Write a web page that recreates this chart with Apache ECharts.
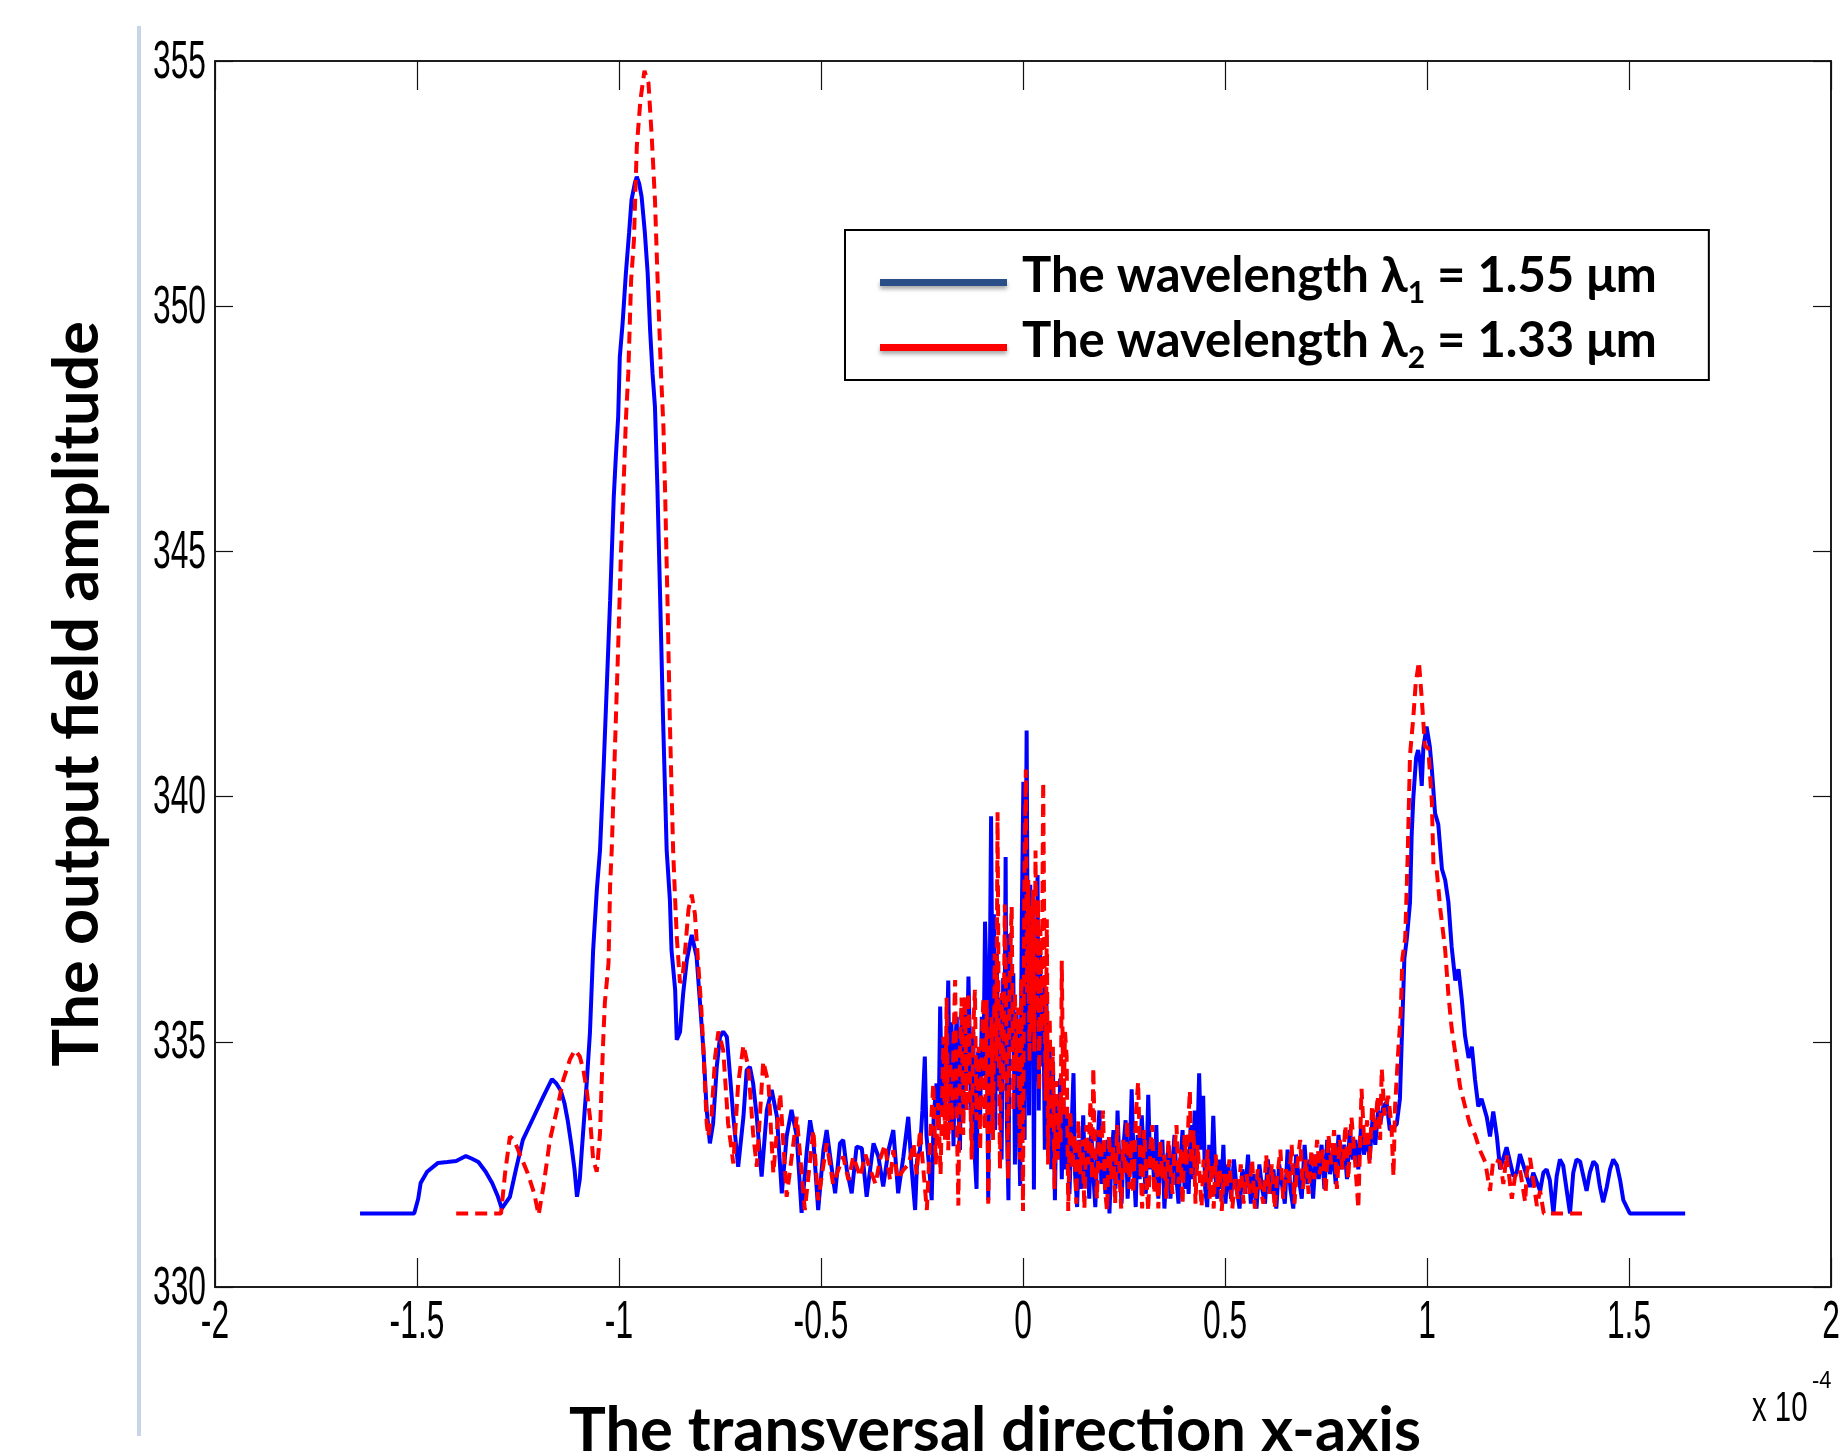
<!DOCTYPE html>
<html>
<head>
<meta charset="utf-8">
<script src="https://cdn.jsdelivr.net/npm/echarts@6/dist/echarts.min.js"></script>
<style>
html,body{margin:0;padding:0;background:#fff;}
#chart{width:1846px;height:1452px;}
</style>
</head>
<body>
<div id="chart"></div>
<script>
// ---- tick values ----
const xTicks = [-2, -1.5, -1, -0.5, 0, 0.5, 1, 1.5, 2];
const yTicks = [330, 335, 340, 345, 350, 355];

// ---- titles / legend ----
const xTitle = 'The transversal direction x-axis';
const yTitle = 'The output field amplitude';
const seriesNames = ['The wavelength λ1 = 1.55 μm', 'The wavelength λ2 = 1.33 μm'];
const legendRich = [
  '{t0|The wavelength λ}{s|1}{t| = 1.55 μm}',
  '{t0|The wavelength λ}{s|2}{t| = 1.33 μm}'
];
const scaleNote = ['x 10', '-4'];

// ---- series 1: λ1 = 1.55 μm (x in units of 1e-4) ----
const bluePts = [
[-1.641,331.5],[-1.507,331.5],[-1.497,331.8],[-1.491,332.12],[-1.475,332.35],[-1.448,332.53],[-1.425,332.55],[-1.403,332.57],
[-1.379,332.67],[-1.365,332.62],[-1.348,332.55],[-1.330,332.35],[-1.314,332.12],[-1.300,331.85],[-1.290,331.6],[-1.280,331.72],
[-1.270,331.84],[-1.255,332.4],[-1.238,333.0],[-1.215,333.4],[-1.188,333.87],[-1.166,334.24],[-1.155,334.15],[-1.144,334.0],
[-1.135,333.75],[-1.127,333.4],[-1.118,332.9],[-1.110,332.39],[-1.104,331.84],[-1.097,332.2],[-1.092,332.79],[-1.080,334.15],
[-1.072,335.17],[-1.064,336.87],[-1.055,338.09],[-1.047,338.91],[-1.038,340.6],[-1.030,342.3],[-1.022,344.0],[-1.013,346.1],
[-1.008,346.9],[-1.002,347.75],[-0.998,348.97],[-0.991,349.66],[-0.983,350.67],[-0.975,351.5],[-0.969,352.17],[-0.961,352.5],
[-0.956,352.64],[-0.950,352.5],[-0.944,352.23],[-0.936,351.5],[-0.929,350.67],[-0.923,349.51],[-0.917,348.63],[-0.911,347.95],
[-0.905,346.32],[-0.898,344.0],[-0.891,341.6],[-0.882,338.91],[-0.874,337.89],[-0.870,336.87],[-0.861,336.06],[-0.857,335.04],
[-0.849,335.2],[-0.841,336.0],[-0.832,336.67],[-0.820,337.18],[-0.808,336.74],[-0.800,335.85],[-0.791,334.83],[-0.783,333.61],
[-0.775,332.93],[-0.767,333.34],[-0.758,334.49],[-0.750,335.1],[-0.742,335.21],[-0.733,335.1],[-0.725,334.29],[-0.717,333.47],
[-0.705,332.45],[-0.692,333.47],[-0.684,334.42],[-0.676,334.49],[-0.668,334.15],[-0.659,333.47],[-0.647,332.25],[-0.634,333.61],
[-0.622,334.02],[-0.609,333.47],[-0.597,331.91],[-0.585,333.07],[-0.573,333.61],[-0.560,333.07],[-0.548,331.51],[-0.535,332.79],
[-0.527,333.4],[-0.519,333.0],[-0.507,331.57],[-0.494,332.79],[-0.486,333.2],[-0.474,332.45],[-0.465,331.91],[-0.453,332.93],
[-0.445,333.0],[-0.436,332.39],[-0.424,331.91],[-0.412,332.86],[-0.399,332.83],[-0.387,331.84],[-0.370,332.93],[-0.358,332.66],
[-0.346,332.05],[-0.333,332.79],[-0.321,333.2],[-0.309,331.91],[-0.296,332.66],[-0.284,333.47],[-0.276,332.45],[-0.267,331.57],
[-0.262,332.6],[-0.255,332.79],[-0.249,333.6],[-0.243,334.70],[-0.239,333.1],[-0.235,333.13],[-0.230,332.2],[-0.226,331.77],
[-0.221,333.5],[-0.214,334.15],[-0.209,333.2],[-0.205,335.72],[-0.201,334.0],[-0.197,333.47],[-0.193,335.0],[-0.189,334.83],
[-0.185,336.25],[-0.181,333.3],[-0.177,335.4],[-0.172,332.87],[-0.168,334.9],[-0.164,335.51],[-0.160,333.6],[-0.156,332.79],
[-0.152,335.6],[-0.148,333.4],[-0.144,335.85],[-0.140,334.2],[-0.135,336.33],[-0.131,336.36],[-0.127,333.13],[-0.123,335.2],
[-0.119,332.6],[-0.115,332.0],[-0.111,334.8],[-0.106,333.5],[-0.102,335.51],[-0.098,334.3],[-0.094,337.45],[-0.090,336.2],
[-0.086,331.77],[-0.082,336.5],[-0.079,339.6],[-0.075,335.0],[-0.072,337.6],[-0.069,333.2],[-0.065,336.8],[-0.061,334.0],
[-0.057,335.9],[-0.053,332.6],[-0.049,336.3],[-0.046,334.6],[-0.043,338.77],[-0.040,333.4],[-0.036,331.77],[-0.032,337.2],
[-0.028,334.8],[-0.024,336.4],[-0.020,332.5],[-0.016,335.6],[-0.012,333.9],[-0.007,332.06],[-0.003,337.5],[0.001,340.3],
[0.004,333.0],[0.007,338.6],[0.009,341.35],[0.012,336.0],[0.015,333.5],[0.018,338.2],[0.021,335.0],[0.024,337.6],
[0.027,331.99],[0.030,336.8],[0.033,334.2],[0.036,338.4],[0.039,333.6],[0.042,337.0],[0.046,334.5],[0.050,336.2],
[0.054,332.8],[0.058,335.8],[0.062,333.5],[0.066,335.0],[0.070,332.4],[0.074,334.6],[0.079,331.77],[0.083,333.9],
[0.087,332.6],[0.092,334.25],[0.096,332.2],[0.100,333.8],[0.105,332.4],[0.110,333.5],[0.115,331.9],[0.120,333.2],
[0.125,334.36],[0.129,332.3],[0.134,331.63],[0.139,333.0],[0.144,332.0],[0.149,333.5],[0.154,332.2],[0.159,332.9],
[0.164,331.8],[0.169,333.2],[0.174,332.3],[0.179,331.63],[0.184,332.8],[0.189,333.6],[0.194,332.1],[0.199,332.9],
[0.204,331.9],[0.209,333.0],[0.214,331.5],[0.219,332.6],[0.224,333.2],[0.229,332.0],[0.234,333.6],[0.239,332.4],
[0.244,331.7],[0.249,332.9],[0.254,333.4],[0.259,331.8],[0.264,332.6],[0.269,334.03],[0.274,332.5],[0.279,331.63],
[0.284,333.1],[0.289,332.2],[0.294,333.5],[0.299,332.6],[0.304,331.9],[0.310,333.92],[0.315,332.4],[0.320,333.0],
[0.325,332.0],[0.330,333.3],[0.335,331.8],[0.340,332.6],[0.345,333.0],[0.350,331.6],[0.355,332.4],[0.360,332.9],
[0.365,331.8],[0.370,332.5],[0.375,333.1],[0.380,332.2],[0.385,331.7],[0.390,332.6],[0.395,333.2],[0.400,332.0],
[0.405,332.8],[0.410,331.9],[0.415,333.3],[0.420,332.2],[0.425,333.6],[0.430,332.4],[0.436,334.36],[0.441,332.8],
[0.446,333.9],[0.451,332.0],[0.456,331.63],[0.461,332.9],[0.466,332.2],[0.471,333.49],[0.476,332.3],[0.481,331.8],
[0.486,332.6],[0.491,332.0],[0.496,332.9],[0.501,331.7],[0.508,332.5],[0.515,331.8],[0.522,332.6],[0.529,332.0],
[0.536,331.6],[0.543,332.4],[0.550,331.9],[0.557,332.7],[0.564,331.7],[0.571,332.3],[0.578,331.6],[0.585,332.5],
[0.592,332.0],[0.599,331.7],[0.606,332.6],[0.613,331.9],[0.620,332.4],[0.627,331.6],[0.634,332.5],[0.641,332.1],
[0.648,331.7],[0.655,332.8],[0.662,332.0],[0.669,331.6],[0.676,332.7],[0.683,332.2],[0.690,331.8],[0.697,332.9],
[0.704,332.1],[0.711,332.6],[0.718,331.8],[0.725,332.7],[0.732,332.2],[0.739,332.9],[0.746,332.0],[0.753,333.0],
[0.760,332.3],[0.767,332.8],[0.774,332.1],[0.781,333.1],[0.788,332.4],[0.795,332.9],[0.802,332.2],[0.809,333.2],
[0.816,332.6],[0.823,333.0],[0.830,332.4],[0.837,333.3],[0.844,332.7],[0.851,333.1],[0.858,332.6],[0.865,333.4],
[0.872,332.9],[0.879,333.6],[0.884,333.32],[0.892,333.68],[0.900,333.77],[0.908,333.2],[0.917,333.25],[0.925,333.32],
[0.933,333.84],[0.937,334.9],[0.944,336.7],[0.950,337.1],[0.958,337.85],[0.962,339.2],[0.966,339.96],[0.973,340.79],
[0.978,340.95],[0.983,340.7],[0.987,340.22],[0.991,341.0],[0.999,341.43],[1.007,341.02],[1.012,340.56],[1.020,339.66],
[1.028,339.43],[1.037,338.52],[1.045,338.3],[1.053,337.85],[1.061,336.94],[1.070,336.25],[1.078,336.48],[1.086,335.88],
[1.094,335.13],[1.103,334.67],[1.111,334.9],[1.119,334.22],[1.127,333.68],[1.135,333.84],[1.148,333.46],[1.156,333.07],
[1.164,333.58],[1.173,333.07],[1.181,332.4],[1.189,332.63],[1.197,332.85],[1.214,332.26],[1.222,332.33],[1.230,332.71],
[1.247,332.26],[1.255,332.04],[1.263,332.33],[1.280,331.96],[1.288,332.33],[1.296,332.4],[1.304,332.18],[1.313,331.5],
[1.321,332.26],[1.329,332.6],[1.337,332.48],[1.346,331.96],[1.354,331.5],[1.362,332.33],[1.370,332.6],[1.379,332.56],
[1.387,332.26],[1.395,331.96],[1.403,332.33],[1.412,332.56],[1.420,332.48],[1.428,332.04],[1.436,331.73],[1.445,332.04],
[1.453,332.4],[1.461,332.6],[1.470,332.48],[1.478,332.18],[1.486,331.77],[1.502,331.5],[1.639,331.5]
];

// ---- series 2: λ2 = 1.33 μm ----
const redPts = [
[-1.403,331.5],[-1.292,331.5],[-1.282,332.32],[-1.270,333.07],[-1.260,333.0],[-1.243,332.66],[-1.226,332.32],[-1.210,331.91],
[-1.199,331.47],[-1.187,332.05],[-1.171,333.0],[-1.154,333.6],[-1.138,334.22],[-1.121,334.65],[-1.109,334.83],[-1.097,334.7],
[-1.088,334.42],[-1.080,334.02],[-1.072,333.47],[-1.064,332.6],[-1.055,332.35],[-1.047,333.13],[-1.043,334.15],[-1.039,335.04],
[-1.035,335.8],[-1.026,336.6],[-1.022,338.2],[-1.018,338.91],[-1.010,341.0],[-1.003,342.8],[-0.995,345.0],[-0.989,346.25],
[-0.983,347.68],[-0.977,348.63],[-0.970,350.53],[-0.963,351.35],[-0.956,353.25],[-0.947,354.2],[-0.937,354.8],[-0.927,354.55],
[-0.919,353.46],[-0.911,352.17],[-0.905,350.67],[-0.896,348.63],[-0.890,347.54],[-0.886,346.25],[-0.880,344.0],[-0.874,341.5],
[-0.866,338.9],[-0.861,337.9],[-0.857,337.14],[-0.849,336.2],[-0.843,336.3],[-0.837,336.8],[-0.828,337.7],[-0.820,338.0],
[-0.812,337.6],[-0.804,336.6],[-0.796,335.65],[-0.791,334.83],[-0.783,333.34],[-0.779,333.07],[-0.771,333.5],[-0.762,334.7],
[-0.754,335.21],[-0.742,334.83],[-0.730,333.34],[-0.717,332.52],[-0.705,334.15],[-0.692,334.93],[-0.680,334.49],[-0.668,333.13],
[-0.659,332.45],[-0.643,334.6],[-0.630,334.15],[-0.618,332.32],[-0.601,333.95],[-0.585,331.84],[-0.560,333.47],[-0.540,331.57],
[-0.519,333.2],[-0.507,331.77],[-0.486,332.93],[-0.470,332.1],[-0.445,332.66],[-0.432,332.18],[-0.420,332.66],[-0.403,332.25],
[-0.390,332.7],[-0.378,332.39],[-0.365,332.1],[-0.354,332.6],[-0.342,332.9],[-0.329,332.18],[-0.321,332.79],[-0.310,332.2],
[-0.296,332.39],[-0.283,332.5],[-0.271,332.93],[-0.263,332.3],[-0.255,333.2],[-0.238,331.57],[-0.230,333.0],[-0.222,334.15],
[-0.216,332.5],[-0.210,333.75],[-0.204,332.3],[-0.197,335.1],[-0.193,333.0],[-0.189,335.9],[-0.185,332.79],[-0.180,334.6],
[-0.176,333.2],[-0.172,335.0],[-0.168,336.26],[-0.164,333.5],[-0.160,331.66],[-0.156,334.8],[-0.152,335.9],[-0.148,333.1],
[-0.144,335.92],[-0.139,333.6],[-0.135,336.0],[-0.131,334.15],[-0.127,332.6],[-0.123,335.3],[-0.119,336.06],[-0.115,333.4],
[-0.110,334.9],[-0.106,332.79],[-0.102,335.0],[-0.098,335.9],[-0.094,333.2],[-0.090,335.85],[-0.086,331.7],[-0.082,334.2],
[-0.078,335.5],[-0.074,333.0],[-0.070,336.8],[-0.066,334.6],[-0.063,339.68],[-0.060,335.2],[-0.057,332.4],[-0.053,336.0],
[-0.049,334.0],[-0.045,337.8],[-0.041,335.3],[-0.037,332.2],[-0.033,336.4],[-0.028,337.75],[-0.024,333.6],[-0.020,336.0],
[-0.016,334.4],[-0.012,335.7],[-0.008,332.6],[-0.004,336.3],[0.000,331.55],[0.003,337.9],[0.007,340.55],[0.010,336.0],
[0.013,338.3],[0.016,334.6],[0.019,337.8],[0.022,335.2],[0.025,338.1],[0.028,334.8],[0.031,338.9],[0.034,335.6],
[0.037,337.9],[0.040,334.0],[0.043,337.3],[0.046,335.2],[0.050,340.3],[0.053,336.8],[0.056,333.8],[0.059,337.5],
[0.062,332.5],[0.066,335.5],[0.070,333.2],[0.074,334.9],[0.078,332.0],[0.082,334.2],[0.086,332.6],[0.090,333.8],
[0.093,332.9],[0.096,336.65],[0.100,333.5],[0.104,335.2],[0.108,334.7],[0.112,331.55],[0.117,333.6],[0.122,332.4],
[0.127,333.1],[0.132,331.7],[0.137,333.4],[0.142,332.3],[0.147,333.0],[0.152,331.6],[0.157,333.3],[0.162,332.5],
[0.167,333.8],[0.171,332.2],[0.174,334.47],[0.178,332.8],[0.183,331.8],[0.188,333.2],[0.193,332.4],[0.198,333.6],
[0.203,332.0],[0.208,331.55],[0.213,333.1],[0.218,332.2],[0.223,332.9],[0.228,331.7],[0.233,333.3],[0.238,332.5],
[0.243,331.6],[0.248,333.0],[0.253,332.3],[0.258,333.4],[0.263,332.0],[0.268,333.0],[0.273,331.9],[0.280,333.6],
[0.285,334.18],[0.290,332.6],[0.295,331.6],[0.300,333.2],[0.305,332.3],[0.310,331.55],[0.315,332.8],[0.320,333.3],
[0.325,331.9],[0.330,332.6],[0.335,331.6],[0.340,333.0],[0.345,332.2],[0.350,332.7],[0.355,331.8],[0.360,333.0],
[0.365,332.4],[0.370,331.9],[0.375,332.8],[0.380,333.3],[0.385,332.1],[0.390,332.8],[0.395,331.7],[0.400,333.1],
[0.405,332.5],[0.410,333.5],[0.413,334.0],[0.417,332.3],[0.422,333.2],[0.427,331.7],[0.432,332.9],[0.437,332.3],
[0.442,331.63],[0.447,332.6],[0.452,332.1],[0.457,332.8],[0.462,331.8],[0.467,332.5],[0.472,331.6],[0.477,332.7],
[0.482,332.0],[0.487,332.4],[0.492,331.55],[0.497,332.3],[0.504,332.0],[0.511,332.6],[0.518,331.6],[0.525,332.2],
[0.532,331.8],[0.539,332.5],[0.546,331.7],[0.553,332.3],[0.560,331.9],[0.567,332.6],[0.574,331.6],[0.581,332.4],
[0.588,332.0],[0.595,331.7],[0.602,332.7],[0.609,331.9],[0.616,332.5],[0.623,331.6],[0.630,332.3],[0.637,332.8],
[0.644,331.8],[0.651,332.4],[0.658,332.1],[0.665,332.9],[0.672,331.7],[0.679,332.5],[0.686,333.0],[0.693,332.0],
[0.700,332.6],[0.707,331.9],[0.714,332.8],[0.721,332.2],[0.728,333.0],[0.735,332.3],[0.742,332.8],[0.749,331.9],
[0.756,333.1],[0.763,332.5],[0.770,333.2],[0.777,332.0],[0.784,333.0],[0.791,332.4],[0.798,333.3],[0.805,332.2],
[0.813,333.46],[0.820,332.8],[0.830,331.6],[0.838,334.04],[0.845,332.9],[0.852,333.4],[0.858,332.5],[0.864,333.7],
[0.871,333.2],[0.878,333.9],[0.884,333.0],[0.888,334.45],[0.895,333.5],[0.904,333.9],[0.912,333.3],[0.917,332.26],
[0.921,333.69],[0.929,334.83],[0.935,335.59],[0.939,336.7],[0.946,337.1],[0.952,338.75],[0.958,340.86],[0.966,341.6],
[0.972,342.3],[0.980,342.75],[0.987,342.0],[0.995,341.02],[1.003,341.0],[1.012,339.89],[1.016,338.6],[1.024,338.5],
[1.033,337.7],[1.045,336.87],[1.053,335.96],[1.061,335.28],[1.069,334.83],[1.082,334.08],[1.094,333.69],[1.106,333.32],
[1.119,333.1],[1.131,332.79],[1.144,332.55],[1.156,331.96],[1.164,332.6],[1.181,332.55],[1.189,332.1],[1.197,332.7],
[1.210,331.8],[1.218,332.26],[1.230,332.4],[1.243,331.73],[1.247,332.33],[1.255,332.63],[1.263,332.18],[1.272,331.65],
[1.280,331.96],[1.289,331.5],[1.399,331.5]
];

// ---- styling ----
const tickFont = "'Liberation Sans',Arial,Helvetica,sans-serif";
const titleFont = "Lato,'Open Sans','Noto Sans',sans-serif";
const axisColor = '#1e1e1e';

const chart = echarts.init(document.getElementById('chart'), null, {renderer: 'canvas'});

function baseX(pos) {
  return {
    type: 'value', position: pos,
    min: xTicks[0], max: xTicks[xTicks.length - 1], interval: xTicks[1] - xTicks[0],
    axisLine: {show: true, onZero: false, lineStyle: {color: axisColor, width: 2}},
    axisTick: {show: true, inside: true, length: 29, lineStyle: {color: '#111', width: 1.2}},
    axisLabel: {show: false},
    splitLine: {show: false}
  };
}
function baseY(pos) {
  return {
    type: 'value', position: pos,
    min: yTicks[0], max: yTicks[yTicks.length - 1], interval: yTicks[1] - yTicks[0],
    axisLine: {show: true, onZero: false, lineStyle: {color: axisColor, width: 2}},
    axisTick: {show: true, inside: true, length: 18, lineStyle: {color: '#111', width: 1.2}},
    axisLabel: {show: false},
    splitLine: {show: false}
  };
}

const xMain = Object.assign(baseX('bottom'), {
  name: xTitle, nameLocation: 'middle', nameGap: 113, nameMoveOverlap: false,
  nameTextStyle: {fontFamily: titleFont, fontWeight: 'bold', fontSize: 61.5, color: '#000', padding: [0, 56, 0, 0]}
});
const yMain = Object.assign(baseY('left'), {
  name: yTitle, nameLocation: 'middle', nameGap: 106, nameRotate: 90, nameMoveOverlap: false,
  nameTextStyle: {fontFamily: titleFont, fontWeight: 'bold', fontSize: 63, color: '#000', padding: [0, 40, 0, 0]}
});

const legendTextBase = {fontFamily: titleFont, fontWeight: 'bold', color: '#000'};

chart.setOption({
  animation: false,
  backgroundColor: '#fff',
  grid: {left: 215, right: 15, top: 61, bottom: 165, containLabel: false, outerBoundsMode: 'none'},
  xAxis: [xMain, baseX('top')],
  yAxis: [yMain, baseY('right')],
  legend: {
    orient: 'vertical', left: 845, top: 230,
    padding: [20, 52, 0, 35],
    itemWidth: 127, itemHeight: 7, itemGap: 0,
    icon: 'rect', selectedMode: false,
    borderColor: '#000', borderWidth: 2, backgroundColor: '#fff',
    data: [
      {name: seriesNames[0], itemStyle: {color: '#2a4e88', shadowBlur: 4, shadowColor: 'rgba(0,0,0,0.35)', shadowOffsetY: 3}},
      {name: seriesNames[1], itemStyle: {color: '#ff0000', shadowBlur: 4, shadowColor: 'rgba(0,0,0,0.35)', shadowOffsetY: 3}}
    ],
    formatter: name => legendRich[seriesNames.indexOf(name)],
    textStyle: {
      rich: {
        t0: Object.assign({fontSize: 49, lineHeight: 53, padding: [0, 0, 12, 10]}, legendTextBase),
        t: Object.assign({fontSize: 49, lineHeight: 53, padding: [0, 0, 12, 0]}, legendTextBase),
        s: Object.assign({fontSize: 30, lineHeight: 30, padding: [28, 0, 7, 0]}, legendTextBase)
      }
    }
  },
  series: [
    {name: seriesNames[0], type: 'line', xAxisIndex: 0, yAxisIndex: 0, data: bluePts,
      showSymbol: false, symbol: 'none', clip: true, z: 2,
      itemStyle: {color: '#0000ff'}, lineStyle: {color: '#0000ff', width: 4}},
    {name: seriesNames[1], type: 'line', xAxisIndex: 0, yAxisIndex: 0, data: redPts,
      showSymbol: false, symbol: 'none', clip: true, z: 3,
      itemStyle: {color: '#ff0000'}, lineStyle: {color: '#ff0000', width: 4, type: [12, 7]}}
  ]
});

// ---- tick labels (condensed like the original), placed through the axes' own scales ----
const graphics = [
  {type: 'rect', silent: true, shape: {x: 137, y: 26, width: 4, height: 1410}, style: {fill: '#c8d4e7'}}
];
const yBottom = chart.convertToPixel({yAxisIndex: 0}, yTicks[0]);
const xLeft = chart.convertToPixel({xAxisIndex: 0}, xTicks[0]);
xTicks.forEach(v => {
  graphics.push({type: 'text', silent: true, x: chart.convertToPixel({xAxisIndex: 0}, v), y: yBottom + 36,
    scaleX: 0.6, originX: 0, originY: 0,
    style: {text: String(v), fontFamily: tickFont, fontSize: 53, fill: '#000', align: 'center', verticalAlign: 'middle'}});
});
yTicks.forEach(v => {
  graphics.push({type: 'text', silent: true, x: xLeft - 9, y: chart.convertToPixel({yAxisIndex: 0}, v) + 2,
    scaleX: 0.6, originX: 0, originY: 0,
    style: {text: String(v), fontFamily: tickFont, fontSize: 53, fill: '#000', align: 'right', verticalAlign: 'middle'}});
});
graphics.push({type: 'text', silent: true, x: 1752, y: 1409, scaleX: 0.7, originX: 0,
  style: {text: scaleNote[0], fontFamily: tickFont, fontSize: 42, fill: '#000', align: 'left', verticalAlign: 'middle'}});
graphics.push({type: 'text', silent: true, x: 1812, y: 1382, scaleX: 0.95, originX: 0,
  style: {text: scaleNote[1], fontFamily: tickFont, fontSize: 23, fill: '#000', align: 'left', verticalAlign: 'middle'}});
chart.setOption({graphic: graphics});
</script>
</body>
</html>
